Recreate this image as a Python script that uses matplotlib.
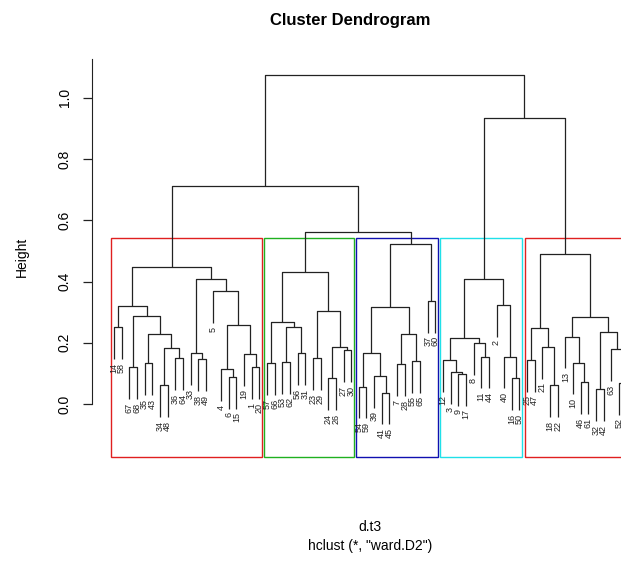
import matplotlib
matplotlib.use('Agg')
import matplotlib.pyplot as plt
from matplotlib.patches import Rectangle

plt.rcParams['font.family'] = ['Liberation Sans', 'DejaVu Sans']

# hclust merge table, R style: negative = observation, positive = earlier step (1-based)
merge_a = [-14, -67, -35, -34, -36, 4, 3, 2, 1, -38, -33, -6, -4, -1, -19, 13, -5, 11, 9,
           -57, -53, -56, 21, 20, -23, -24, -27, 26, 25, 24,
           -54, -41, -39, 31, -7, -55, 35, 34, -37, 38, 30, 19,
           -9, -3, -12, -11, -8, 45, -16, -40, -2, 48,
           -25, -18, -21, 53, -46, -10, -13, -32, -52, -63, 60, 59, 56, 52, 42]
merge_b = [-58, -68, -43, -48, -64, 5, 6, 7, 8, -49, 10, -15, 12, -20, 14, 15, 16, 17, 18,
           -66, -62, -31, 22, 23, -29, -26, -30, 27, 28, 29,
           -59, -45, 32, 33, -28, -65, 36, 37, -60, 39, 40, 41,
           -17, 43, 44, -44, 46, 47, -50, 49, 50, 51,
           -47, -22, 54, 55, -61, 57, 58, -42, -51, 61, 62, 63, 64, 65, 66]
heights = [0.250, 0.120, 0.133, 0.062, 0.149, 0.183, 0.228, 0.288, 0.321, 0.146, 0.166,
           0.089, 0.114, 0.120, 0.164, 0.258, 0.369, 0.410, 0.447,
           0.133, 0.138, 0.166, 0.253, 0.267, 0.149, 0.084, 0.176, 0.187, 0.304, 0.432,
           0.057, 0.037, 0.092, 0.166, 0.130, 0.141, 0.228, 0.318, 0.337, 0.522, 0.562, 0.712,
           0.098, 0.105, 0.144, 0.155, 0.200, 0.215, 0.084, 0.155, 0.324, 0.407,
           0.144, 0.062, 0.187, 0.249, 0.071, 0.135, 0.220, 0.048, 0.069, 0.180, 0.234,
           0.284, 0.490, 0.935, 1.075]

# rect.hclust(k = 5, border = 2:5)
k = 5
box_colors = ['#e02020', '#20b020', '#1010b0', '#20e0e8', '#e02020']

hang = 0.1 * (max(heights) - min(heights))


def leaf_order(node):
    if node < 0:
        return [-node]
    return leaf_order(merge_a[node - 1]) + leaf_order(merge_b[node - 1])


root = len(heights)
order = leaf_order(root)
pos = {obs: i + 1 for i, obs in enumerate(order)}

fig = plt.figure(figsize=(6.21, 5.61), dpi=100)
W, H = 621, 561
ax = fig.add_axes([92 / W, (H - 457) / H, (660 - 92) / W, (457 - 59) / H])
ax.set_xlim(-1.876, 72.37)
ax.set_ylim(-0.173, 1.127)

# draw the tree
xs = {}
for i in range(len(heights)):
    h = heights[i]
    pts = []
    for child in (merge_a[i], merge_b[i]):
        if child < 0:
            pts.append((pos[-child], h - hang))
        else:
            pts.append((xs[child], heights[child - 1]))
    (xa, ya), (xb, yb) = pts
    ax.plot([xa, xa, xb, xb], [ya, h, h, yb], color='#222222', lw=0.9,
            solid_capstyle='butt', clip_on=False)
    xs[i + 1] = (xa + xb) / 2.0

# leaf labels
for child_list in (merge_a, merge_b):
    for i, child in enumerate(child_list):
        if child < 0:
            ax.text(pos[-child], heights[i] - hang - 0.012, str(-child), rotation=90,
                    ha='center', va='top', fontsize=6.5, color='#222222')

# clusters for the boxes
top_steps = sorted(range(1, root + 1), key=lambda s: heights[s - 1], reverse=True)[:k - 1]
groups = []
for s in top_steps:
    for child in (merge_a[s - 1], merge_b[s - 1]):
        if child not in top_steps:
            groups.append([pos[o] for o in leaf_order(child)])
groups.sort(key=min)
hs = sorted(heights, reverse=True)
box_top = (hs[k - 2] + hs[k - 1]) / 2.0
for g, col in zip(groups, box_colors):
    x0 = min(g) - 1 + 0.66
    x1 = max(g) + 0.33
    ax.add_patch(Rectangle((x0, -0.173), x1 - x0, box_top + 0.173, fill=False,
                           edgecolor=col, lw=1.0, clip_on=False))

# axes
for side in ['top', 'right', 'bottom']:
    ax.spines[side].set_visible(False)
ax.spines['left'].set_bounds(0, 1.127)
ax.spines['left'].set_color('#222222')
ax.set_xticks([])
yt = [0.0, 0.2, 0.4, 0.6, 0.8, 1.0]
ax.set_yticks(yt)
ax.set_yticklabels(['%.1f' % v for v in yt], rotation=90, va='center', fontsize=10)
ax.tick_params(axis='y', length=6.5, width=0.9, pad=8, color='#222222')

fig.text(350 / W, 1 - 20 / H, 'Cluster Dendrogram', ha='center', va='center',
         fontsize=12, fontweight='bold')
fig.text(22 / W, 1 - 257 / H, 'Height', rotation=90, ha='center', va='center', fontsize=10)
fig.text(370 / W, 1 - 527 / H, 'd.t3', ha='center', va='center', fontsize=10)
fig.text(370 / W, 1 - 546 / H, 'hclust (*, "ward.D2")', ha='center', va='center', fontsize=10)

fig.savefig('out.png', dpi=100)
